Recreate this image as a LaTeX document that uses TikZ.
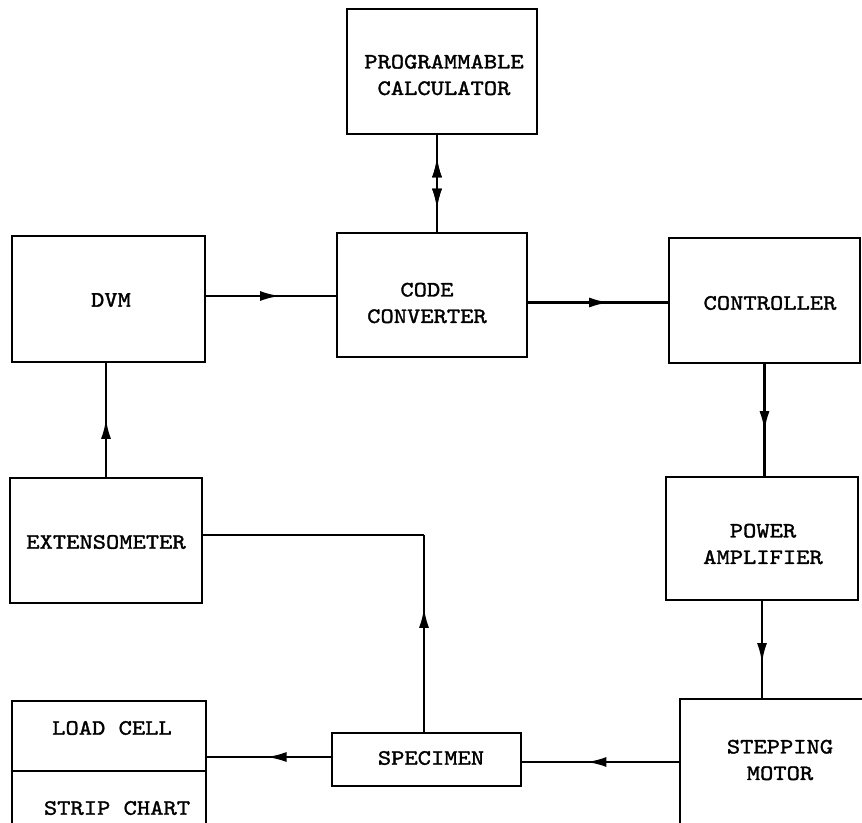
\documentclass[tikz,border=0pt]{standalone}
\usepackage{fontspec}
\newfontfamily\tw{lmmono10-regular.otf}[FakeStretch=1.15,FakeBold=1.5]
\usetikzlibrary{decorations.markings,arrows.meta}
\begin{document}
\begin{tikzpicture}[x=1pt,y=-1pt,
  box/.style={draw,line width=2.5pt,inner sep=0pt},
  txt/.style={font=\fontsize{22}{26.5}\selectfont\tw,align=center,inner sep=0pt},
  conn/.style={line width=2.5pt},
  fwd/.style={postaction={decorate},decoration={markings,mark=at position #1 with {\arrow{Latex[length=20pt,width=10pt]}}}},
  bwd/.style={postaction={decorate},decoration={markings,mark=at position #1 with {\arrowreversed{Latex[length=20pt,width=10pt]}}}},
  ]
\useasboundingbox (0,0) rectangle (862,822);
\clip (0,0) rectangle (862,822);
% boxes
\node[box,minimum width=190pt,minimum height=125pt] (pc) at (442,71.5) {};
\node[txt] (pct) at (444,75) {PROGRAMMABLE\\CALCULATOR};
\node[box,minimum width=190pt,minimum height=124pt] (cc) at (432,295) {};
\node[txt] (cct) at (427,303) {CODE\\CONVERTER};
\node[box,minimum width=193pt,minimum height=126pt] (dvm) at (108.5,299) {};
\node[txt] (dvmt) at (111,300) {DVM};
\node[box,minimum width=191pt,minimum height=125pt] (ctrl) at (764.5,300.5) {};
\node[txt] (ctrlt) at (770,303) {CONTROLLER};
\node[box,minimum width=192pt,minimum height=125pt] (ext) at (106,540.5) {};
\node[txt] (extt) at (106,542) {EXTENSOMETER};
\node[box,minimum width=192pt,minimum height=123pt] (pa) at (762,538.5) {};
\node[txt] (pat) at (763,544) {POWER\\AMPLIFIER};
\node[box,minimum width=192pt,minimum height=140pt] (sm) at (776,769) {};
\node[txt] (smt) at (780,760) {STEPPING\\MOTOR};
\node[box,minimum width=194pt,minimum height=70pt] (lc) at (109,736) {};
\node[txt] (lct) at (112,728) {LOAD CELL};
\node[box,minimum width=194pt,minimum height=80pt] (sc) at (109,811) {};
\node[txt] (sct) at (117,808) {STRIP CHART};
\node[box,minimum width=189pt,minimum height=53pt] (spec) at (426.5,759.5) {};
\node[txt] (spect) at (431,758) {SPECIMEN};
% connectors
\coordinate (pcx) at (437,180);
\draw[conn,bwd=0.23,fwd=0.76] (pc.south -| pcx) -- (cc.north -| pcx);
\draw[conn,fwd=0.57] ([yshift=3pt]dvm.east) -- ([yshift=3pt]dvm.east -| cc.west);
\draw[conn,fwd=0.58] ([yshift=-2pt]ctrl.west -| cc.east) -- ([yshift=-2pt]ctrl.west);
\draw[conn,fwd=0.6] (ctrl.south) -- (ctrl.south |- pa.north);
\draw[conn,fwd=0.64] (pa.south) -- (pa.south |- sm.north);
\draw[conn,fwd=0.59] ([yshift=-2.5pt]sm.west |- spec.east) -- ([yshift=-2.5pt]spec.east);
\draw[conn,fwd=0.52] ([yshift=2.5pt]spec.west) -- ([yshift=2.5pt]spec.west -| lc.east);
\coordinate (bend) at (424,535);
\draw[conn,fwd=0.63] (spec.north -| bend) -- (bend);
\draw[conn] (bend) -- (bend -| ext.east);
\draw[conn,fwd=0.51] (ext.north) -- (ext.north |- dvm.south);
\end{tikzpicture}
\end{document}
